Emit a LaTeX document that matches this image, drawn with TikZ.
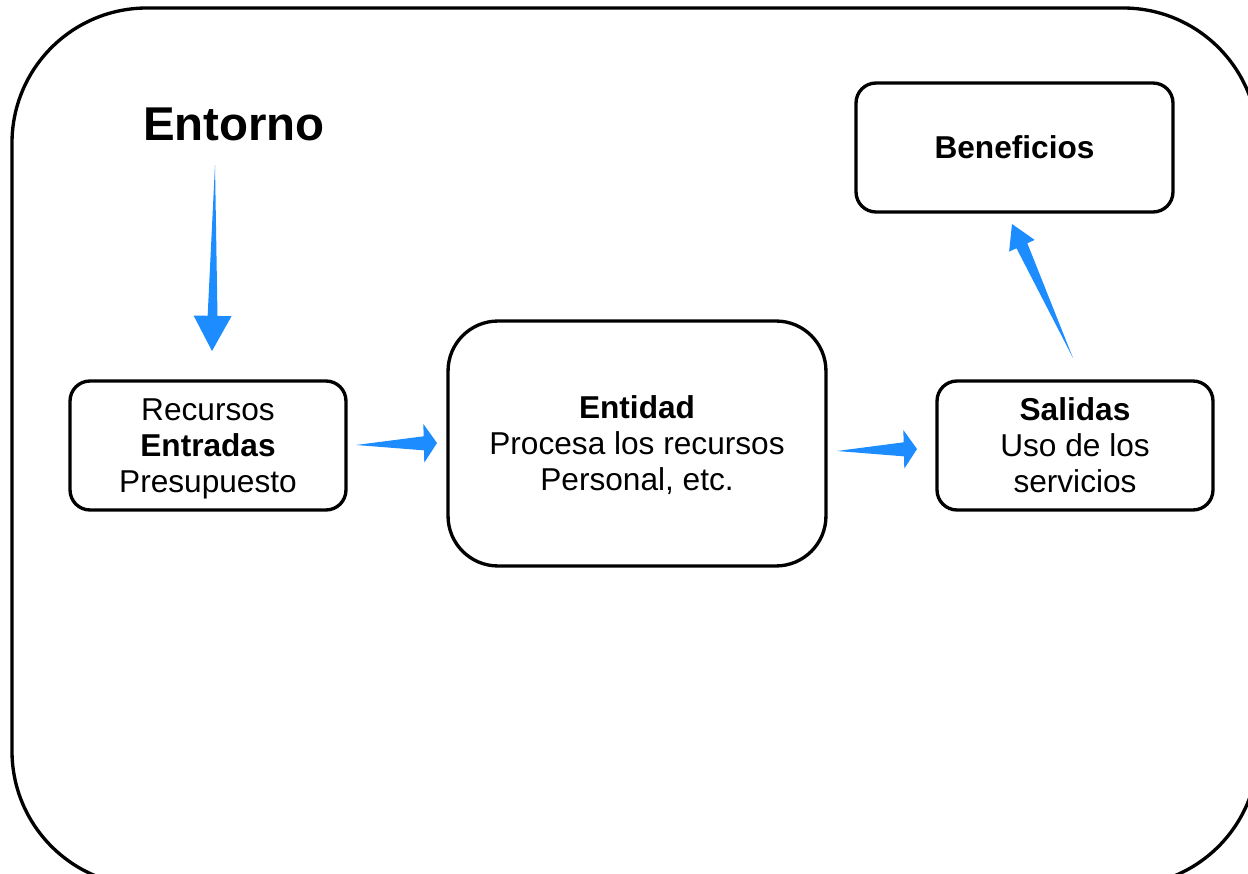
\documentclass[tikz,border=0pt]{standalone}
\usepackage{fontspec}
\setmainfont{Liberation Sans}
\usetikzlibrary{calc, positioning}
\definecolor{flowblue}{RGB}{28,140,255}

% tapered blue arrow: #1 tail, #2 tip, #3 head length, #4 head half width, #5 shaft half width
\newcommand{\flowarrow}[5]{%
  \coordinate (hb) at ($(#2)!#3!(#1)$);
  \fill[flowblue] (#1) -- ($(hb)!#5!90:(#2)$) -- ($(hb)!#4!90:(#2)$) -- (#2)
    -- ($(hb)!#4!-90:(#2)$) -- ($(hb)!#5!-90:(#2)$) -- cycle;
}

\begin{document}
\begin{tikzpicture}[x=0.02cm, y=-0.02cm,
    every node/.style={font=\fontsize{18}{20.5}\selectfont},
    box/.style={draw, line width=1.9pt, rounded corners=0.4cm, align=center, inner sep=0pt, text depth=0pt},
    small/.style={box, minimum width=5.52cm, minimum height=2.58cm}]
    \useasboundingbox (0,0) rectangle (1248,874);
    \clip (0,0) rectangle (1248,874);
    % Outer frame (environment)
    \draw[line width=1.9pt, rounded corners=2.7cm] (12,8) rectangle (1258,886);
    % Title
    \node[font=\fontsize{27}{30}\selectfont\bfseries] (entorno) at (234,124) {Entorno};
    % Boxes
    \node[small] (recursos) at (208,445.5) {Recursos\\\textbf{Entradas}\\Presupuesto};
    \node[box, rounded corners=1cm, minimum width=7.56cm, minimum height=4.9cm] (entidad) at (637,443.5)
        {\textbf{Entidad}\\Procesa los recursos\\Personal, etc.};
    \node[small] (salidas) at (1075,445.5) {\textbf{Salidas}\\Uso de los\\servicios};
    \node[box, minimum width=6.34cm, minimum height=2.58cm] (beneficios) at (1014.5,147.5) {\textbf{Beneficios}};
    % Arrow ends
    \coordinate (entorno-out) at (215,165);
    \coordinate (recursos-in) at (212,351);
    \coordinate (recursos-out) at (356,445);
    \coordinate (entidad-in) at (437,443);
    \coordinate (entidad-out) at (837,451);
    \coordinate (salidas-in) at (917,449);
    \coordinate (salidas-out) at (1073,358);
    \coordinate (beneficios-in) at (1012,224);
    % Arrows
    \flowarrow{entorno-out}{recursos-in}{20pt}{10.8pt}{2.8pt}
    \flowarrow{recursos-out}{entidad-in}{7.5pt}{11pt}{4pt}
    \flowarrow{entidad-out}{salidas-in}{7.5pt}{11pt}{4pt}
    \flowarrow{salidas-out}{beneficios-in}{13.6pt}{8pt}{3.4pt}
\end{tikzpicture}
\end{document}
